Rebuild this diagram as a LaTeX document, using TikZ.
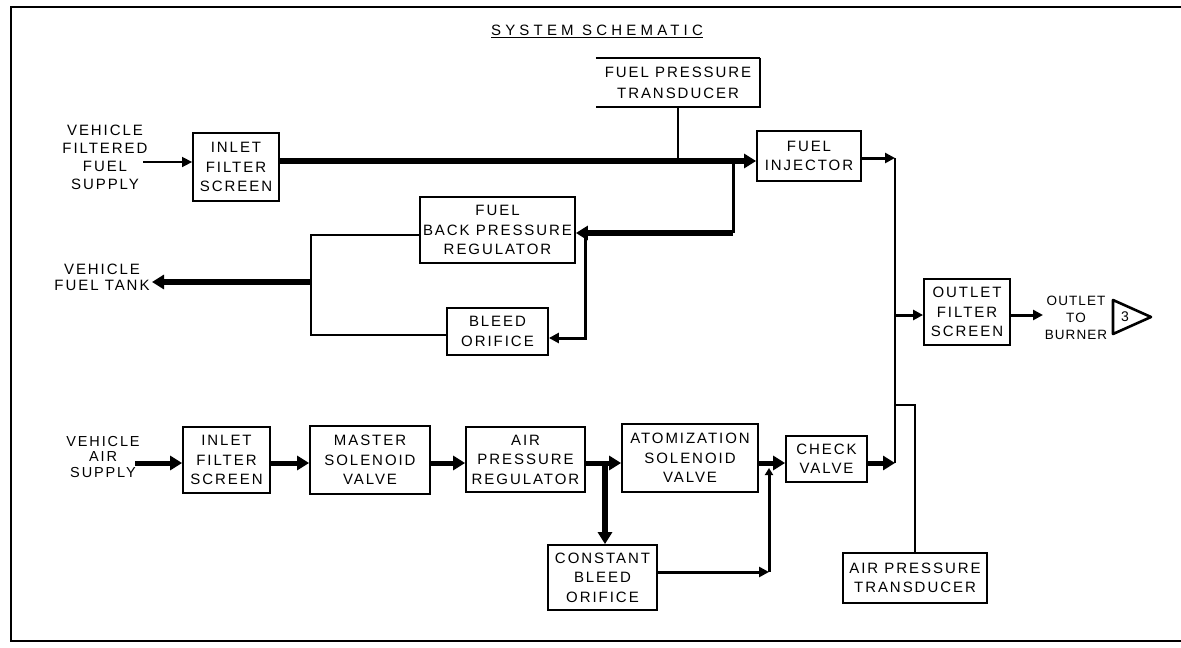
\documentclass[tikz,border=0pt]{standalone}
\usepackage{fontspec}
\setmainfont{Liberation Sans}[LetterSpace=13]
\usetikzlibrary{arrows.meta}
\begin{document}
\begin{tikzpicture}[x=1pt,y=-1pt,
  box/.style={draw, line width=1.8pt, align=center, inner sep=0pt, font=\fontsize{15}{19.5}\selectfont},
  lbl/.style={align=center, inner sep=0pt, font=\fontsize{15}{18}\selectfont},
  thinl/.style={line width=1.6pt},
  medl/.style={line width=3pt},
  fatl/.style={line width=6pt},
  tip/.style={-{Triangle[length=10pt,width=10pt]}},
  bigtip/.style={-{Triangle[length=12pt,width=14pt]}}
]
\useasboundingbox (0,0) rectangle (1181,648);
% frame
\draw[line width=2.2pt] (1181,7) -- (11,7) -- (11,641) -- (1181,641);
% title
\node[lbl, font=\fontsize{15}{18}\addfontfeature{LetterSpace=28}] (title) at (597,31) {\underline{SYSTEM SCHEMATIC}};

% ---------- fuel side ----------
\node[lbl] (vffs) at (105,157) {VEHICLE\\FILTERED\\FUEL\\SUPPLY};
\node[box, minimum width=86pt, minimum height=68pt] (fif) at (236,167) {INLET\\FILTER\\SCREEN};
\node[box, minimum width=104pt, minimum height=50pt] (fi) at (809,156) {FUEL\\INJECTOR};
\node[align=center, inner sep=0pt, minimum width=164pt, minimum height=49pt,
      font=\fontsize{15}{21}\selectfont] (fpt) at (678,82.5) {FUEL PRESSURE\\TRANSDUCER};
\node[box, minimum width=155pt, minimum height=66pt] (bpr) at (497.5,230) {FUEL\\BACK PRESSURE\\REGULATOR};
\node[box, minimum width=101pt, minimum height=47pt] (bo) at (497.5,331.5) {BLEED\\ORIFICE};
\node[lbl, font=\fontsize{15}{16}\selectfont] (tank) at (102,277) {VEHICLE\\FUEL TANK};

% fuel pressure transducer (open box)
\draw[line width=2.6pt] (fpt.north west) -- (fpt.north east);
\draw[thinl] (fpt.north east) -- (fpt.south east) -- (fpt.south west);

\coordinate (fl) at (0,161);
\coordinate (vin) at (143,162);
\draw[thinl, tip] (vin) -- (fif.west |- vin);
\draw[fatl, bigtip] (fif.east |- fl) -- (fi.west |- fl);
\draw[thinl] (fpt.south) -- (fpt.south |- fl);

\coordinate (jA) at (733,161);
\coordinate (jB) at (733,233);
\coordinate (jC) at (585,233);
\coordinate (jD) at (585,338);
\draw[medl] (jA) -- (jB);
\draw[fatl, bigtip] (jB) -- (bpr.east |- jB);
\draw[medl, tip] (jC) -- (jD) -- (bo.east |- jD);

\coordinate (rt) at (311,235);
\coordinate (rb) at (311,335);
\coordinate (rm) at (311,282);
\coordinate (tk) at (152,282);
\draw[thinl] (bpr.west |- rt) -- (rt) -- (rb) -- (bo.west |- rb);
\draw[fatl, bigtip] (rm) -- (tk);

% ---------- right column ----------
\node[box, minimum width=86pt, minimum height=66pt] (ofs) at (967,312) {OUTLET\\FILTER\\SCREEN};
\node[lbl, font=\fontsize{13.5}{17}\addfontfeature{LetterSpace=8}] (otb) at (1076,318) {OUTLET\\TO\\BURNER};
\node[box, minimum width=144pt, minimum height=50pt] (apt) at (915,578) {AIR PRESSURE\\TRANSDUCER};

\coordinate (vt) at (895,158);
\coordinate (vm) at (895,315);
\coordinate (vb) at (895,463);
\coordinate (va) at (895,405);
\coordinate (vc) at (915,405);
\coordinate (ot) at (1043,315);
\draw[line width=2pt] (vt) -- (vb);
\draw[medl, tip] (fi.east |- vt) -- (vt);
\draw[medl, tip] (vm) -- (ofs.west |- vm);
\draw[medl, tip] (ofs.east |- ot) -- (ot);
\draw[line width=2pt] (va) -- (vc) -- (apt.north);

% outlet marker
\draw[line width=2.6pt, line join=round] (1113,300) -- (1151,317) -- (1113,334) -- cycle;
\node[font=\fontsize{14}{14}\selectfont, inner sep=0pt] (three) at (1125,317) {3};

% ---------- air side ----------
\node[lbl, font=\fontsize{14.5}{15.5}\selectfont] (vas) at (103,457) {VEHICLE\\AIR\\SUPPLY};
\node[box, minimum width=87pt, minimum height=66pt] (ais) at (226.5,460) {INLET\\FILTER\\SCREEN};
\node[box, minimum width=120pt, minimum height=68pt] (msv) at (370,460) {MASTER\\SOLENOID\\VALVE};
\node[box, minimum width=119pt, minimum height=65pt] (apr) at (525.5,459.5) {AIR\\PRESSURE\\REGULATOR};
\node[box, minimum width=136pt, minimum height=68pt] (asv) at (690,458) {ATOMIZATION\\SOLENOID\\VALVE};
\node[box, minimum width=81pt, minimum height=46pt] (cv) at (826.5,459) {CHECK\\VALVE};
\node[box, minimum width=109pt, minimum height=65pt] (cbo) at (602.5,577.5) {CONSTANT\\BLEED\\ORIFICE};

\coordinate (al) at (0,463);
\coordinate (as0) at (135,463);
\coordinate (br) at (605,463);
\draw[line width=5pt, bigtip] (as0) -- (ais.west |- al);
\draw[line width=5pt, bigtip] (ais.east |- al) -- (msv.west |- al);
\draw[line width=5pt, bigtip] (msv.east |- al) -- (apr.west |- al);
\draw[line width=5pt, bigtip] (apr.east |- al) -- (asv.west |- al);
\draw[line width=6pt, bigtip] (br) -- (cbo.north -| br);
\draw[line width=5pt, bigtip] (asv.east |- al) -- (cv.west |- al);
\draw[line width=5pt, bigtip] (cv.east |- al) -- (vb);

\coordinate (cb) at (769,572);
\coordinate (cu) at (769,468);
\draw[medl, tip] (cbo.east |- cb) -- (cb);
\draw[medl, -{Triangle[length=7pt,width=8pt]}] (cb) -- (cu);
\end{tikzpicture}
\end{document}
